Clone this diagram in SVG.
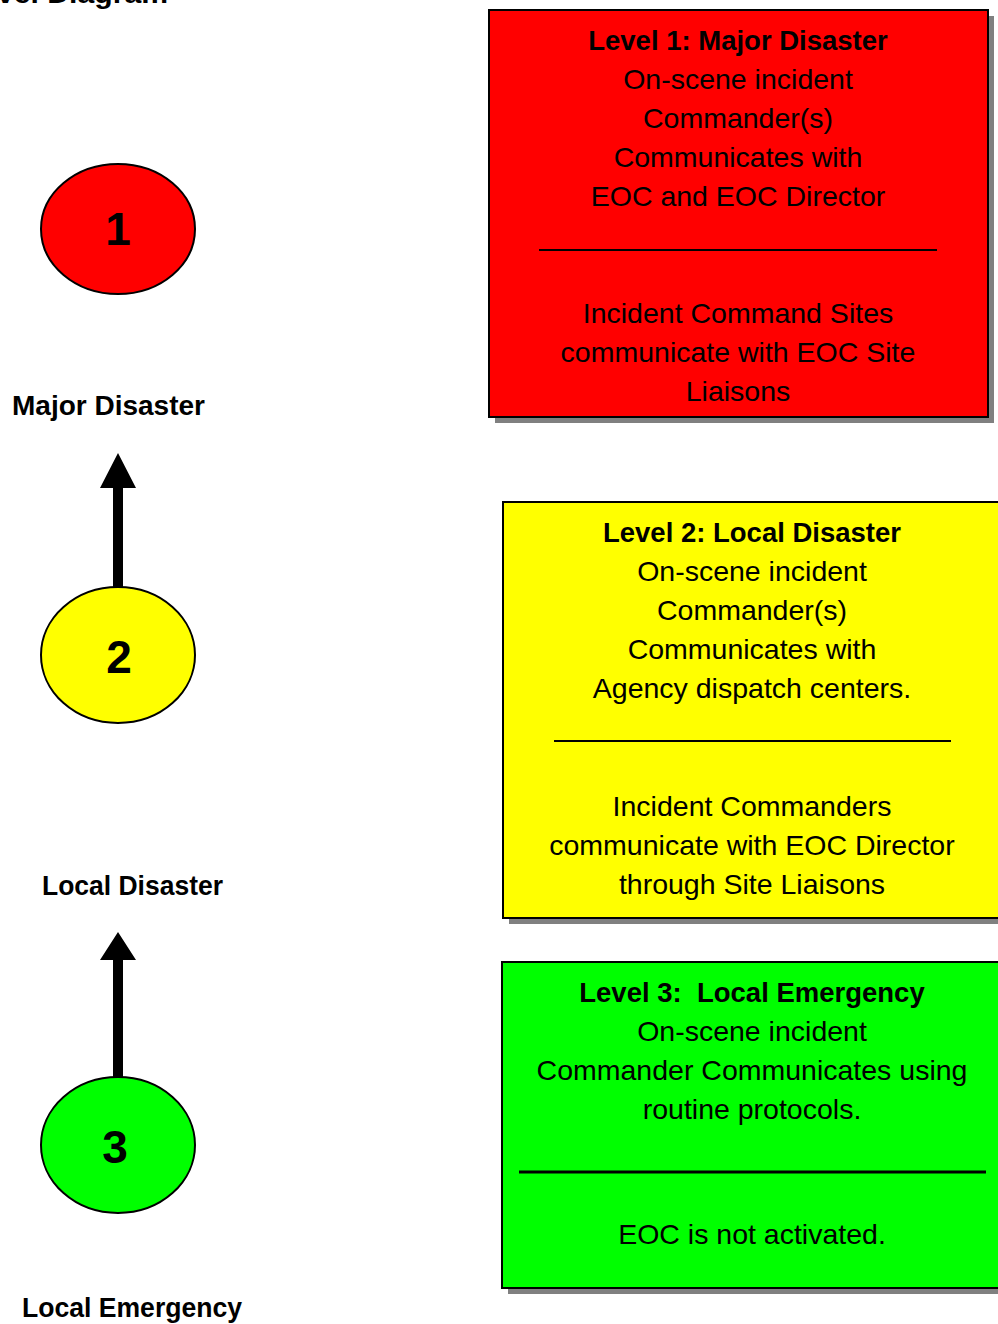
<svg xmlns="http://www.w3.org/2000/svg" width="998" height="1324" viewBox="0 0 998 1324">
<style>
.t{font-family:"Liberation Sans",Arial,sans-serif;font-size:28.5px;fill:#000;text-anchor:middle}
.b{font-weight:bold;font-size:27.5px}
.lbl{font-family:"Liberation Sans",Arial,sans-serif;font-size:27px;font-weight:bold;fill:#000}
.num{font-family:"Liberation Sans",Arial,sans-serif;font-size:46px;font-weight:bold;fill:#000;text-anchor:middle}
.box{stroke:#000;stroke-width:2}
.sh{fill:#808080}
.circ{stroke:#000;stroke-width:2}
</style>
<rect width="998" height="1324" fill="#fff"/>
<text class="lbl" x="-3" y="3" font-size="30" textLength="171" lengthAdjust="spacingAndGlyphs">vel Diagram</text>

<g id="node-level1">
<rect class="sh" x="495" y="16" width="499" height="407"/>
<rect class="box" x="489" y="10" width="499" height="407" fill="#ff0000"/>
<text class="t b" x="738" y="50">Level 1: Major Disaster</text>
<text class="t" x="738" y="89">On-scene incident</text>
<text class="t" x="738" y="128">Commander(s)</text>
<text class="t" x="738" y="167">Communicates with</text>
<text class="t" x="738" y="206">EOC and EOC Director</text>
<line x1="539" y1="250" x2="937" y2="250" stroke="#000" stroke-width="2"/>
<text class="t" x="738" y="323">Incident Command Sites</text>
<text class="t" x="738" y="362">communicate with EOC Site</text>
<text class="t" x="738" y="401">Liaisons</text>
</g>

<g id="node-level2">
<rect class="sh" x="509" y="508" width="499" height="416"/>
<rect class="box" x="503" y="502" width="499" height="416" fill="#ffff00"/>
<text class="t b" x="752" y="542">Level 2: Local Disaster</text>
<text class="t" x="752" y="581">On-scene incident</text>
<text class="t" x="752" y="620">Commander(s)</text>
<text class="t" x="752" y="659">Communicates with</text>
<text class="t" x="752" y="698">Agency dispatch centers.</text>
<line x1="554" y1="741" x2="951" y2="741" stroke="#000" stroke-width="2"/>
<text class="t" x="752" y="816">Incident Commanders</text>
<text class="t" x="752" y="855">communicate with EOC Director</text>
<text class="t" x="752" y="894">through Site Liaisons</text>
</g>

<g id="node-level3">
<rect class="sh" x="508" y="968" width="499" height="326"/>
<rect class="box" x="502" y="962" width="499" height="326" fill="#00ff00"/>
<text class="t b" x="752" y="1002" xml:space="preserve">Level 3:  Local Emergency</text>
<text class="t" x="752" y="1041">On-scene incident</text>
<text class="t" x="752" y="1080">Commander Communicates using</text>
<text class="t" x="752" y="1119">routine protocols.</text>
<line x1="519" y1="1172" x2="986" y2="1172" stroke="#000" stroke-width="3"/>
<text class="t" x="752" y="1244">EOC is not activated.</text>
</g>

<g id="connectors">
<path d="M113 588 V488 H100 L118 453 L136 488 H123 V588 Z" fill="#000"/>
<path d="M113 1078 V960 H100 L118 932 L136 960 H123 V1078 Z" fill="#000"/>
</g>

<g id="node-circle1">
<ellipse class="circ" cx="118" cy="229" rx="77" ry="65" fill="#ff0000"/>
<text class="num" x="118" y="245">1</text>
</g>
<g id="node-circle2">
<ellipse class="circ" cx="118" cy="655" rx="77" ry="68" fill="#ffff00"/>
<text class="num" x="119" y="673">2</text>
</g>
<g id="node-circle3">
<ellipse class="circ" cx="118" cy="1145" rx="77" ry="68" fill="#00ff00"/>
<text class="num" x="115" y="1163">3</text>
</g>

<g id="labels">
<text class="lbl" x="12" y="415" textLength="193" lengthAdjust="spacingAndGlyphs">Major Disaster</text>
<text class="lbl" x="42" y="895" textLength="181" lengthAdjust="spacingAndGlyphs">Local Disaster</text>
<text class="lbl" x="22" y="1317" textLength="220" lengthAdjust="spacingAndGlyphs">Local Emergency</text>
</g>
</svg>
